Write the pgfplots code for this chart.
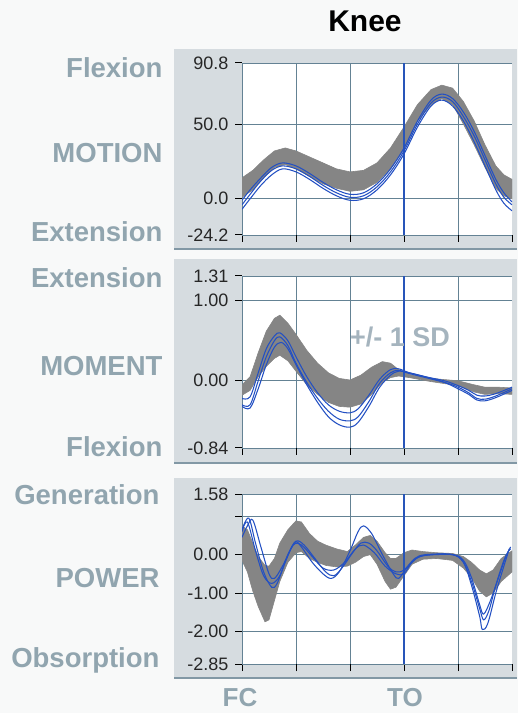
\documentclass[border=0pt]{standalone}
\usepackage{pgfplots}
\pgfplotsset{compat=1.18}
\usepackage{fontspec}
\setmainfont{Liberation Sans}
\definecolor{bg}{RGB}{248,249,249}
\definecolor{panel}{RGB}{214,220,224}
\definecolor{panelline}{RGB}{130,152,165}
\definecolor{gridc}{RGB}{100,130,148}
\definecolor{toc}{RGB}{40,85,185}
\definecolor{bandc}{RGB}{133,133,133}
\definecolor{curvec}{RGB}{35,80,195}
\definecolor{labc}{RGB}{145,165,175}
\definecolor{sdc}{RGB}{165,180,190}

\pgfplotsset{
  kneeax/.style={
    scale only axis, width=270pt, anchor=south west,
    xmin=0, xmax=100,
    xtick={0,20,40,60,80,100}, xticklabels={},
    extra x ticks={20,40,80}, extra x tick labels={},
    extra x tick style={xmajorgrids=true},
    xmajorgrids=false, ymajorgrids=true,
    axis x line=bottom, axis y line=left,
    axis line style={draw=gridc, line width=0.8pt, -},
    major grid style={draw=gridc, line width=0.8pt},
    tick align=outside,
    major tick length=7pt,
    every tick/.style={black, line width=1pt},
    tick label style={font=\fontsize{18}{18}\selectfont, text=black!85},
    yticklabel style={xshift=-3pt},
    axis background/.style={fill=white},
    /pgf/number format/assume math mode=true,
  },
  band/.style={fill=bandc, draw=bandc, line width=0.6pt},
  curve/.style={curvec, line width=1.05pt, smooth, tension=0.55, no marks},
  toline/.style={toc, line width=1.2pt, no marks},
}

\begin{document}
\begin{tikzpicture}[x=1pt,y=1pt]
\path[use as bounding box, fill=bg] (0,0) rectangle (518,713);
% panel backgrounds
\fill[panel] (174,464) rectangle (517,664);
\draw[panelline, line width=1.2pt] (174,464) -- (517,464);
\fill[panel] (174,250) rectangle (517,454);
\draw[panelline, line width=1.2pt] (174,250) -- (517,250);
\fill[panel] (174,35) rectangle (517,235);
\draw[panelline, line width=1.2pt] (174,35) -- (517,35);

% title and labels
\node[font=\bfseries\fontsize{30}{30}\selectfont, text=black] at (365,692) {Knee};
\begin{scope}[every node/.style={anchor=east, text=labc, font=\bfseries\fontsize{27.5}{27.5}\selectfont}]
\node at (166,645) {Flexion};
\node at (166,560) {MOTION};
\node at (166,481) {Extension};
\node at (166,435) {Extension};
\node at (166,347) {MOMENT};
\node at (166,266) {Flexion};
\node at (163,218) {Generation};
\node at (163,135) {POWER};
\node at (163,53) {Obsorption};
\end{scope}
\node[text=labc, font=\bfseries\fontsize{26}{26}\selectfont] at (240,15) {FC};
\node[text=labc, font=\bfseries\fontsize{26}{26}\selectfont] at (405,15) {TO};

% ---------------- MOTION ----------------
\begin{axis}[kneeax, at={(242pt,478pt)}, height=172pt,
  ymin=-24.2, ymax=90.8,
  ytick={-24.2,0,50,90.8}, yticklabels={-24.2,0.0,50.0,90.8}]
\addplot[band] coordinates {
 (0,14) (4,19) (8,26) (12,32) (16,34) (20,32) (25,28) (30,24) (35,20) (40,18)
 (45,19) (50,24) (55,34) (60,48) (65,63) (70,73) (74,76) (78,74) (82,65) (86,52)
 (90,36) (94,22) (97,16) (100,13)
 (100,0) (97,2) (94,7) (90,21) (86,36) (82,50) (78,63) (74,67) (70,63) (65,52)
 (60,33) (55,20) (50,11) (45,6) (40,5) (35,7) (30,10) (25,15) (20,20) (16,23)
 (12,21) (8,14) (4,6) (0,1)} -- cycle;
\addplot[toline] coordinates {(60,-24.2) (60,90.8)};
\addplot[curve] coordinates {
 (0,-4) (3,3) (7,12) (11,19) (15,22) (20,20) (25,15) (30,9) (35,4) (40,1) (45,2)
 (50,8) (55,18) (60,32) (65,50) (70,64) (74,68) (78,65) (82,55) (86,42) (90,26)
 (94,10) (97,1) (100,-4)};
\addplot[curve] coordinates {
 (0,-1) (3,6) (7,14) (11,21) (15,24) (20,22) (25,17) (30,11) (35,6) (40,3) (45,4)
 (50,10) (55,20) (60,34) (65,52) (70,66) (74,70) (78,67) (82,58) (86,45) (90,29)
 (94,13) (97,4) (100,-2)};
\addplot[curve] coordinates {
 (0,-7) (3,0) (7,9) (11,16) (15,20) (20,18) (25,13) (30,7) (35,2) (40,-1) (45,0)
 (50,6) (55,16) (60,30) (65,48) (70,62) (74,66) (78,62) (82,52) (86,38) (90,22)
 (94,6) (97,-3) (100,-8)};
\end{axis}

% ---------------- MOMENT ----------------
\begin{axis}[kneeax, at={(242pt,265pt)}, height=172pt,
  ymin=-0.84, ymax=1.31,
  ytick={-0.84,0,1,1.31}, yticklabels={-0.84,0.00,1.00,1.31}]
\addplot[band] coordinates {
 (0,-0.05) (3,0.05) (6,0.35) (9,0.62) (12,0.78) (14,0.82) (17,0.72) (20,0.58)
 (24,0.38) (28,0.22) (32,0.10) (36,0.03) (40,0.01) (44,0.07) (48,0.17) (52,0.24)
 (55,0.22) (58,0.14) (62,0.08) (70,0.03) (80,0.00) (86,-0.05) (90,-0.08) (95,-0.08) (100,-0.09)
 (100,-0.17) (95,-0.16) (90,-0.17) (86,-0.14) (80,-0.06) (70,-0.01) (62,0.04) (58,0.06)
 (55,0.04) (52,-0.02) (48,-0.17) (44,-0.29) (40,-0.33) (36,-0.32) (32,-0.27) (28,-0.17)
 (24,-0.05) (20,0.12) (17,0.25) (14,0.32) (12,0.28) (9,0.18) (6,0.05) (3,-0.12) (0,-0.18)} -- cycle;
\addplot[toline] coordinates {(60,-0.84) (60,1.31)};
\addplot[curve] coordinates {
 (0,-0.22) (3,-0.2) (6,0.1) (9,0.4) (12,0.56) (14,0.6) (17,0.5) (20,0.3) (24,0.05)
 (28,-0.15) (32,-0.3) (36,-0.38) (40,-0.40) (43,-0.35) (47,-0.18) (51,0.02) (55,0.14)
 (58,0.15) (62,0.1) (68,0.05) (75,0.0) (80,-0.06) (84,-0.12) (87,-0.18) (90,-0.19)
 (94,-0.16) (100,-0.08)};
\addplot[curve] coordinates {
 (0,-0.3) (3,-0.3) (6,0.0) (9,0.3) (12,0.5) (14,0.55) (17,0.44) (20,0.22) (24,-0.02)
 (28,-0.22) (32,-0.38) (36,-0.48) (40,-0.5) (43,-0.45) (47,-0.26) (51,-0.03) (55,0.1)
 (58,0.13) (62,0.09) (68,0.04) (75,-0.02) (80,-0.08) (84,-0.15) (87,-0.22) (90,-0.23)
 (94,-0.19) (100,-0.1)};
\addplot[curve] coordinates {
 (0,-0.32) (3,-0.34) (6,-0.1) (9,0.2) (12,0.42) (14.5,0.48) (17,0.4) (20,0.2) (24,-0.05)
 (28,-0.27) (32,-0.45) (36,-0.55) (40,-0.58) (43,-0.52) (47,-0.32) (51,-0.08) (55,0.07)
 (58,0.12) (62,0.1) (68,0.05) (75,-0.02) (80,-0.1) (84,-0.17) (87,-0.24) (90,-0.25)
 (94,-0.21) (100,-0.12)};
\node[text=sdc, font=\bfseries\fontsize{27}{27}\selectfont] at (axis cs:58.5,0.55) {+/- 1 SD};
\end{axis}

% ---------------- POWER ----------------
\begin{axis}[kneeax, at={(242pt,49pt)}, height=170pt,
  ymin=-2.85, ymax=1.58,
  ytick={-2.85,-2,-1,0,1,1.58}, yticklabels={-2.85,-2.00,-1.00,0.00,{},1.58}]
\addplot[band] coordinates {
 (0,0.75) (2,0.65) (4,0.3) (6,-0.05) (8.5,-0.28) (10,-0.3) (12,-0.1) (14,0.3) (17,0.65)
 (20,0.88) (22,0.85) (25,0.55) (28,0.35) (31,0.25) (35,0.15) (39,0.08) (42,0.25)
 (45,0.45) (47.5,0.5) (50,0.35) (53,0.05) (55,-0.1) (57,-0.1) (60,0.05) (63,0.12)
 (67,0.08) (72,0.05) (78,0.03) (82,-0.05) (85,-0.2) (88,-0.4) (90.5,-0.5) (93,-0.4)
 (96,-0.1) (100,0.1)
 (100,-0.45) (96,-0.7) (93,-1.0) (90.5,-1.1) (88,-0.95) (85,-0.6) (82,-0.35) (78,-0.15)
 (72,-0.1) (67,-0.12) (63,-0.25) (60,-0.55) (57,-0.85) (55,-0.9) (53,-0.7) (50,-0.25)
 (47.5,0.0) (45,-0.05) (42,-0.2) (39,-0.3) (35,-0.32) (31,-0.28) (28,-0.2) (25,-0.1)
 (22,0.08) (20,0.05) (17,-0.2) (14,-0.7) (12,-1.2) (10,-1.7) (8.5,-1.75) (6,-1.35)
 (4,-0.95) (2,-0.45) (0,-0.15)} -- cycle;
\addplot[toline] coordinates {(60,-2.85) (60,1.58)};
\addplot[curve] coordinates {
 (0,0.65) (2.5,0.95) (5,0.3) (8,-0.45) (11,-0.85) (13,-0.75) (16,-0.2) (19.5,0.32)
 (22,0.2) (26,-0.2) (30,-0.5) (33,-0.62) (36,-0.45) (40,0.1) (43,0.6) (45,0.75)
 (48,0.55) (52,0.0) (56,-0.5) (58,-0.62) (61,-0.35) (65,-0.08) (70,0.0) (78,0.0)
 (82,-0.2) (85,-0.8) (88,-1.6) (89,-1.95) (91,-1.8) (94,-1.0) (97,-0.3) (99,0.15)};
\addplot[curve] coordinates {
 (0,0.45) (2,0.75) (4,0.9) (7,0.2) (10,-0.5) (12,-0.62) (15,-0.3) (19,0.25) (22,0.25)
 (26,-0.05) (30,-0.35) (34,-0.4) (38,-0.2) (42,0.15) (45,0.25) (49,0.05) (53,-0.3)
 (57,-0.5) (60,-0.5) (63,-0.2) (67,-0.03) (78,0.0) (82,-0.15) (85,-0.6) (88,-1.3)
 (89.5,-1.55) (92,-1.2) (95,-0.6) (98,0.0) (99.5,0.15)};
\addplot[curve] coordinates {
 (0,0.6) (2,0.85) (5,0.1) (8,-0.55) (11,-0.75) (14,-0.55) (17,0.0) (20,0.35) (23,0.25)
 (27,-0.1) (31,-0.45) (34,-0.55) (37,-0.35) (41,0.05) (44,0.3) (47,0.3) (50,0.1)
 (54,-0.3) (57,-0.45) (60,-0.4) (64,-0.1) (68,0.0) (78,0.0) (82,-0.2) (85,-0.7)
 (88,-1.4) (89.5,-1.7) (91.5,-1.45) (94,-0.8) (97,-0.15) (99.5,0.2)};
\end{axis}
\end{tikzpicture}
\end{document}
